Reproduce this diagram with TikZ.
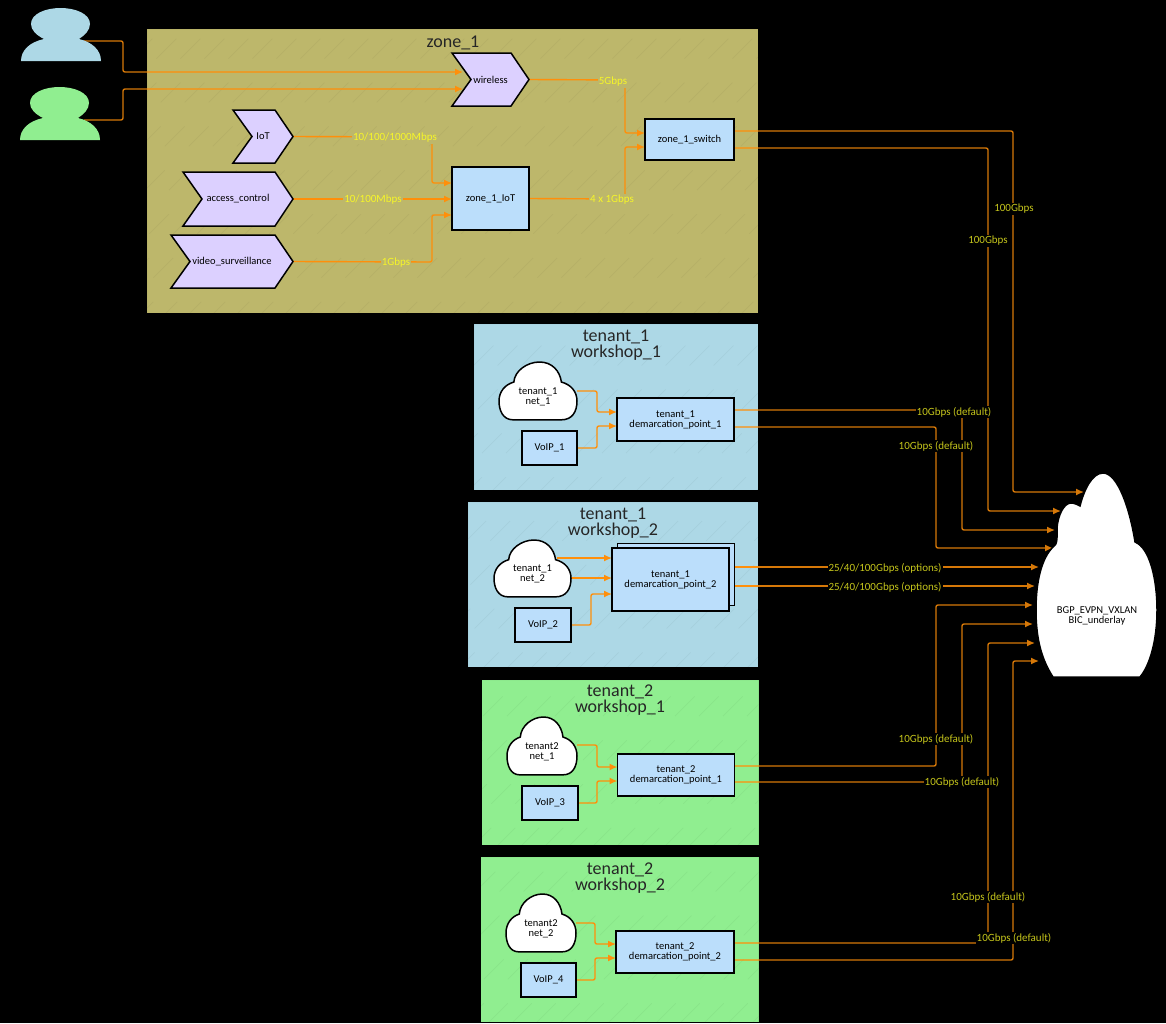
\documentclass[tikz,border=0pt]{standalone}
\usepackage{fontspec}
\setmainfont{Carlito}
\usetikzlibrary{arrows.meta}
\definecolor{khakiz}{HTML}{BDB76B}
\definecolor{bluez}{HTML}{ADD8E6}
\definecolor{greenz}{HTML}{90EE90}
\definecolor{boxfill}{HTML}{BBDEFB}
\definecolor{chevfill}{HTML}{DCD0FF}
\definecolor{edgecol}{HTML}{FF8F0A}
\definecolor{lblin}{HTML}{F6F628}
\definecolor{lblout}{HTML}{C6C61C}
\pgfdeclarelayer{bg}
\pgfdeclarelayer{edgelayer}
\pgfdeclarelayer{top}
\pgfsetlayers{bg,edgelayer,main,top}
\tikzset{
  cluster/.style={rectangle,draw=none,inner sep=0pt,outer sep=0pt,line width=0pt},
  ctitle/.style={align=center,inner sep=0pt,font=\fontsize{18}{16.5}\selectfont,text=black!85},
  boxnode/.style={rectangle,draw=black,line width=1.5pt,fill=boxfill,inner sep=0pt,outer sep=0pt,align=center,font=\fontsize{10.5}{10}\selectfont},
  plain/.style={inner sep=0pt,outer sep=0pt,align=center,font=\fontsize{10.5}{10}\selectfont},
  shapeline/.style={draw=black,line width=1.5pt,line join=miter},
  edge/.style={draw=edgecol,line width=1.4pt,rounded corners=2pt,-{Latex[length=8pt,width=7pt]}},
  lblz/.style={inner sep=1pt,text=lblin,fill=khakiz,font=\fontsize{11}{11}\selectfont},
  lblo/.style={inner sep=1pt,text=lblout,fill=black,font=\fontsize{11}{11}\selectfont},
  hatch/.style={draw=black,opacity=.04,line width=.7pt,dash pattern=on 28pt off 34pt}
}
% name, x1, y1, x2, y2, text
\newcommand\chevnode[6]{%
  \pgfmathsetmacro\ymid{(#3+#5)/2}\pgfmathsetmacro\xa{#4-18}\pgfmathsetmacro\xb{#2+19}%
  \pgfmathsetmacro\xc{(#2+#4)/2}\pgfmathsetmacro\nodew{#4-#2}\pgfmathsetmacro\nodeh{#5-#3}%
  \path[shapeline,fill=chevfill] (#2,#3) -- (\xa,#3) -- (#4,\ymid) -- (\xa,#5) -- (#2,#5) -- (\xb,\ymid) -- cycle;
  \node[plain,minimum width=\nodew pt,minimum height=\nodeh pt] (#1) at (\xc,\ymid) {#6};
}
% name, x1, y1, x2, y2, text
\newcommand\cloudnode[6]{%
  \pgfmathsetmacro\xc{(#2+#4)/2}\pgfmathsetmacro\yc{(#3+#5)/2}\pgfmathsetmacro\nodew{#4-#2}\pgfmathsetmacro\nodeh{#5-#3}%
  \path[shapeline,fill=white,shift={(#2,#3)},x=\nodew pt,y=-\nodeh pt]
    (.18,.98) .. controls (.05,.98) and (0,.82) .. (0,.66)
    .. controls (0,.5) and (.08,.38) .. (.19,.34)
    .. controls (.2,.15) and (.36,0) .. (.52,0)
    .. controls (.68,0) and (.78,.15) .. (.8,.34)
    .. controls (.92,.38) and (1,.5) .. (1,.66)
    .. controls (1,.84) and (.94,.98) .. (.8,.98) -- cycle;
  \node[plain,minimum width=\nodew pt,minimum height=\nodeh pt] (#1) at (\xc,\yc) {\vphantom{X}\\#6};
}
% person silhouette: colour, x shift, y shift
\newcommand\personshape[3]{%
  \fill[#1,shift={(#2,#3)}] (21,61) .. controls (21,50) and (30,42) .. (44,39)
    .. controls (36,35) and (31,30) .. (31,24)
    .. controls (31,14) and (45,8) .. (60.5,8)
    .. controls (76,8) and (90,14) .. (90,24)
    .. controls (90,30) and (85,35) .. (79,39)
    .. controls (92,42) and (101,50) .. (101,61) -- cycle;
}
\begin{document}
\begin{tikzpicture}[x=1pt,y=-1pt]
\useasboundingbox (0,0) rectangle (1166,1023);
\begin{pgfonlayer}{bg}
  \fill[black] (0,0) rectangle (1166,1023);
  \node[cluster,fill=khakiz,minimum width=611pt,minimum height=284pt] (z1) at (452.5,171) {};
  \node[cluster,fill=bluez,minimum width=284pt,minimum height=166pt] (t1a) at (616,407) {};
  \node[cluster,fill=bluez,minimum width=290pt,minimum height=165pt] (t1b) at (613,584.5) {};
  \node[cluster,fill=greenz,minimum width=277pt,minimum height=165pt] (t2a) at (620,762.5) {};
  \node[cluster,fill=greenz,minimum width=278pt,minimum height=165pt] (t2b) at (619.5,939.5) {};
  \begin{scope}
    \clip (z1.south west) rectangle (z1.north east)
          (t1a.south west) rectangle (t1a.north east)
          (t1b.south west) rectangle (t1b.north east)
          (t2a.south west) rectangle (t2a.north east)
          (t2b.south west) rectangle (t2b.north east);
    \foreach \i in {-1000,-976,...,1160} \draw[hatch] (\i,1023) -- ++(1023,-1023);
  \end{scope}
\end{pgfonlayer}

% cluster titles
\node[ctitle] (tz1) at (453,43) {zone\_1};
\node[ctitle] (tt1a) at (616,345) {tenant\_1\\workshop\_1};
\node[ctitle] (tt1b) at (613,523) {tenant\_1\\workshop\_2};
\node[ctitle] (tt2a) at (620,700) {tenant\_2\\workshop\_1};
\node[ctitle] (tt2b) at (620,878) {tenant\_2\\workshop\_2};

% people
\personshape{bluez}{0}{0}
\personshape{greenz}{-1}{79}
\coordinate (user1) at (84,41);
\coordinate (user2) at (84,120);

% zone_1
\chevnode{wireless}{452}{53}{529}{106}{wireless}
\chevnode{iot}{233}{110}{293}{163}{IoT}
\chevnode{access}{183}{172}{293}{226}{access\_control}
\chevnode{video}{171}{235}{293}{288}{video\_surveillance}
\node[boxnode,minimum width=77pt,minimum height=63pt] (ziot) at (490.5,198.5) {zone\_1\_IoT};
\node[boxnode,minimum width=89pt,minimum height=41pt] (zsw) at (689.5,139.5) {zone\_1\_switch};

% tenant_1 workshop_1
\cloudnode{n11}{499}{362}{577}{421}{tenant\_1\\net\_1}
\node[boxnode,minimum width=55pt,minimum height=34pt] (voip1) at (549.5,448) {VoIP\_1};
\node[boxnode,minimum width=117pt,minimum height=43pt] (dp11) at (675.5,419.5) {tenant\_1\\demarcation\_point\_1};

% tenant_1 workshop_2
\cloudnode{n12}{494}{540}{571}{598}{tenant\_1\\net\_2}
\node[boxnode,minimum width=56pt,minimum height=34pt] (voip2) at (543,625) {VoIP\_2};
\node[boxnode,line width=1pt,minimum width=117pt,minimum height=62pt] (dp12b) at (675.5,574) {};
\node[boxnode,minimum width=117pt,minimum height=63pt] (dp12) at (670.5,579.5) {tenant\_1\\demarcation\_point\_2};

% tenant_2 workshop_1
\cloudnode{n21}{507}{717}{577}{776}{tenant2\\net\_1}
\node[boxnode,minimum width=56pt,minimum height=34pt] (voip3) at (550,803) {VoIP\_3};
\node[boxnode,minimum width=117pt,minimum height=42pt] (dp21) at (676,775) {tenant\_2\\demarcation\_point\_1};

% tenant_2 workshop_2
\cloudnode{n22}{506}{894}{576}{953}{tenant2\\net\_2}
\node[boxnode,minimum width=55pt,minimum height=34pt] (voip4) at (548.5,980) {VoIP\_4};
\node[boxnode,minimum width=118pt,minimum height=42pt] (dp22) at (675,952) {tenant\_2\\demarcation\_point\_2};

% underlay cloud
\path[shapeline,fill=white] (1053,677) .. controls (1042,660) and (1036,640) .. (1036,610)
  .. controls (1036,580) and (1042,558) .. (1053,547)
  .. controls (1058,545) and (1057,535) .. (1057,528)
  .. controls (1058,515) and (1064,503) .. (1071,503)
  .. controls (1075,503) and (1078,505) .. (1080,506)
  .. controls (1084,490) and (1092,473) .. (1103,473)
  .. controls (1118,473) and (1130,510) .. (1135,542)
  .. controls (1150,548) and (1157,580) .. (1157,610)
  .. controls (1157,640) and (1150,665) .. (1140,677) -- cycle;
\node[plain] (bgp) at (1097,616) {BGP\_EVPN\_VXLAN\\BIC\_underlay};

% arrow ends
\coordinate (winA) at (463,72);
\coordinate (winB) at (463,89);
\coordinate (b1) at (1084,492);
\coordinate (b2) at (1061,511);
\coordinate (b3) at (1055,530);
\coordinate (b4) at (1053,548);
\coordinate (b5) at (1039,567);
\coordinate (b6) at (1035,586);
\coordinate (b7) at (1033,605);
\coordinate (b8) at (1033,624);
\coordinate (b9) at (1035,643);
\coordinate (b10) at (1039,661);

\begin{pgfonlayer}{edgelayer}
  \draw[edge] (user1) -- (123,41) -- (123,72) -- (winA);
  \draw[edge] (user2) -- (123,120) -- (123,89) -- (winB);
  \draw[edge] (wireless.east) -- (625,80) -- (625,133) -- (zsw.west |- 0,133);
  \draw[edge] (ziot.east) -- (625,199) -- (625,147) -- (zsw.west |- 0,147);
  \draw[edge] (iot.east) -- (432,137) -- (432,183) -- (ziot.west |- 0,183);
  \draw[edge] (access.east) -- (ziot.west |- access.east);
  \draw[edge] (video.east) -- (432,262) -- (432,215) -- (ziot.west |- 0,215);
  \draw[edge] (zsw.east |- 0,131) -- (1013,131) -- (1013,492) -- (b1);
  \draw[edge] (zsw.east |- 0,148) -- (988,148) -- (988,511) -- (b2);
  % tenant_1 workshop_1
  \draw[edge] (n11.east |- 0,391) -- (597,391) -- (597,412) -- (dp11.west |- 0,412);
  \draw[edge] (voip1.east) -- (597,448) -- (597,426) -- (dp11.west |- 0,426);
  \draw[edge] (dp11.east |- 0,410) -- (962,410) -- (962,530) -- (b3);
  \draw[edge] (dp11.east |- 0,427) -- (936,427) -- (936,548) -- (b4);
  % tenant_1 workshop_2
  \draw[edge] (n12.north east |- 0,558) ++(-14,0) -- (dp12.west |- 0,558);
  \draw[edge] (n12.east |- 0,578) -- (dp12.west |- 0,578);
  \draw[edge] (voip2.east) -- (591,625) -- (591,594) -- (dp12.west |- 0,594);
  \draw[edge] (dp12b.east |- b5) -- (b5);
  \draw[edge] (dp12b.east |- b6) -- (b6);
  % tenant_2 workshop_1
  \draw[edge] (n21.east |- 0,745) -- (597,745) -- (597,767) -- (dp21.west |- 0,767);
  \draw[edge] (voip3.east) -- (597,803) -- (597,781) -- (dp21.west |- 0,781);
  \draw[edge] (dp21.east |- 0,766) -- (936,766) -- (936,605) -- (b7);
  \draw[edge] (dp21.east |- 0,782) -- (962,782) -- (962,624) -- (b8);
  % tenant_2 workshop_2
  \draw[edge] (n22.east |- 0,923) -- (595,923) -- (595,944) -- (dp22.west |- 0,944);
  \draw[edge] (voip4.east) -- (595,980) -- (595,958) -- (dp22.west |- 0,958);
  \draw[edge] (dp22.east |- 0,943) -- (988,943) -- (988,643) -- (b9);
  \draw[edge] (dp22.east |- 0,960) -- (1013,960) -- (1013,661) -- (b10);
  % outside the clusters the connectors read darker
  \fill[black,opacity=.16,even odd rule] (0,0) rectangle (1166,1023)
     (z1.south west) rectangle (z1.north east)
     (t1a.south west) rectangle (t1a.north east)
     (t1b.south west) rectangle (t1b.north east)
     (t2a.south west) rectangle (t2a.north east)
     (t2b.south west) rectangle (t2b.north east);
\end{pgfonlayer}

\begin{pgfonlayer}{top}
  \node[lblz] (l1) at (613,82) {5Gbps};
  \node[lblz] (l2) at (395,138) {10/100/1000Mbps};
  \node[lblz] (l3) at (373,200) {10/100Mbps};
  \node[lblz] (l4) at (396,263) {1Gbps};
  \node[lblz] (l5) at (612,200) {4 x 1Gbps};
  \node[lblo] (l6) at (1014,209) {100Gbps};
  \node[lblo] (l7) at (988,241) {100Gbps};
  \node[lblo] (l8) at (954,412) {10Gbps (default)};
  \node[lblo] (l9) at (936,446) {10Gbps (default)};
  \node[lblo] (l10) at (885,568) {25/40/100Gbps (options)};
  \node[lblo] (l11) at (885,587) {25/40/100Gbps (options)};
  \node[lblo] (l12) at (936,739) {10Gbps (default)};
  \node[lblo] (l13) at (962,782) {10Gbps (default)};
  \node[lblo] (l14) at (988,897) {10Gbps (default)};
  \node[lblo] (l15) at (1014,938) {10Gbps (default)};
\end{pgfonlayer}
\end{tikzpicture}
\end{document}
